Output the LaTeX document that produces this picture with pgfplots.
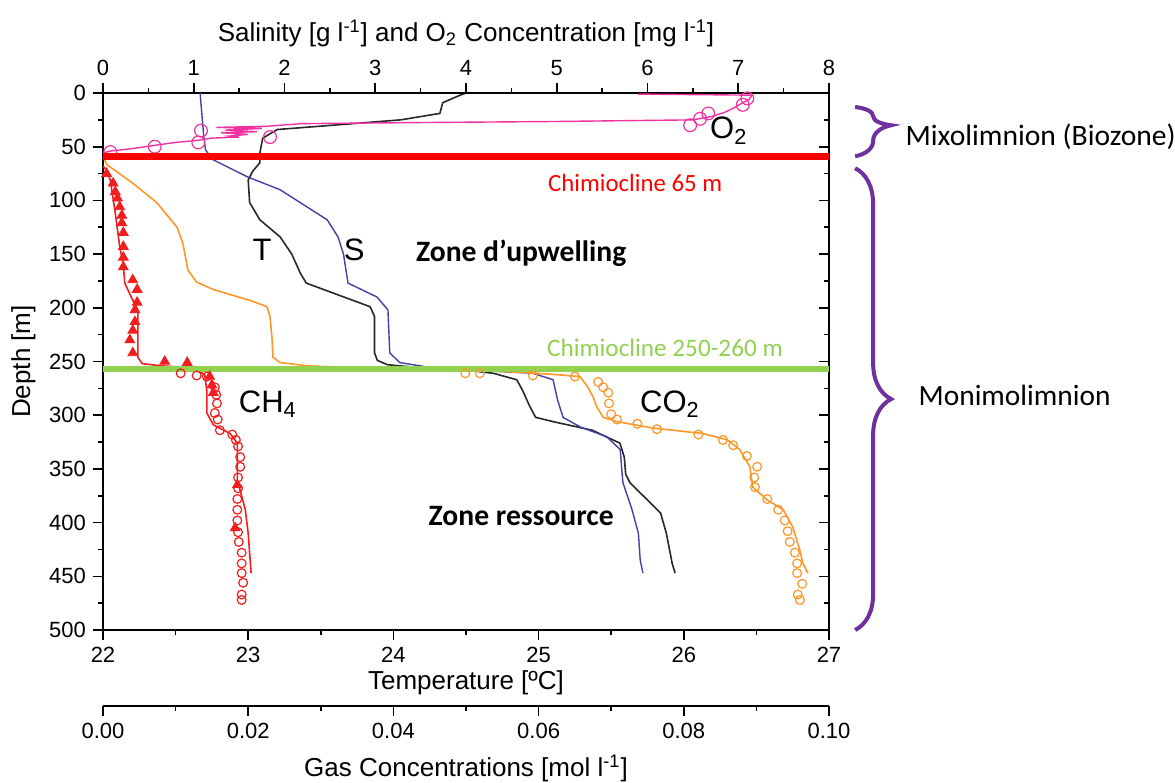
\documentclass[border=0pt]{standalone}
\usepackage{fontspec}
\setmainfont{Liberation Sans}
\newfontfamily\calibri{Carlito}
\usepackage{pgfplots}
\pgfplotsset{compat=1.18}
\usetikzlibrary{decorations.pathreplacing}
\definecolor{salblue}{RGB}{64,64,165}
\definecolor{tgray}{RGB}{40,40,40}
\definecolor{otwo}{RGB}{240,50,160}
\definecolor{chred}{RGB}{240,30,30}
\definecolor{coorange}{RGB}{255,150,40}
\definecolor{chgreen}{RGB}{146,208,80}
\definecolor{bracepurple}{RGB}{112,48,160}
\pgfplotsset{
  common/.style={scale only axis, width=363pt, height=268.5pt,
    ymin=0, ymax=500, y dir=reverse, at={(0,0)}, anchor=south west,
    /pgf/number format/assume math mode=true,
    tick label style={font=\fontsize{11}{13}\selectfont},
    label style={font=\fontsize{13}{15}\selectfont},
    tick align=outside, major tick length=5pt, minor tick length=2.5pt,
    tick style={black, line width=0.8pt},
    axis line style={-, line width=1pt},
    every outer x axis line/.append style={-},
    every outer y axis line/.append style={-},
    scaled ticks=false},
}
\begin{document}
\begin{tikzpicture}
% Temperature axis (main)
\begin{axis}[common, xmin=22, xmax=27,
  axis x line*=bottom, axis y line*=left,
  xtick={22,23,24,25,26,27}, minor x tick num=1,
  ytick={0,50,...,500}, minor y tick num=1,
  xlabel={Temperature [ºC]}, ylabel={Depth [m]},
  xlabel style={yshift=3pt},
  tick align=outside]
\addplot[tgray, line width=0.8pt] coordinates {
(24.50,0) (24.46,2) (24.34,9) (24.32,19) (24.05,25) (23.58,30) (23.20,34) (23.10,42) (23.08,56) (23.08,65) (23.03,73) (23.00,81) (23.01,102) (23.08,118) (23.22,134) (23.30,150) (23.36,168) (23.40,177) (23.58,186) (23.84,199) (23.87,208) (23.87,242) (23.89,249) (23.96,253) (24.2,256) (24.5,258) (24.69,261) (24.85,267) (24.89,277) (24.94,292) (24.98,302) (25.10,306) (25.37,314) (25.56,326) (25.59,339) (25.60,355) (25.63,363) (25.75,379) (25.84,391) (25.88,410) (25.92,438) (25.94,447)};
\end{axis}
% right ticks
\begin{axis}[common, xmin=0, xmax=1, hide x axis, axis y line*=right,
  tick align=inside, ytick={0,50,...,500}, minor y tick num=1, yticklabels={}]
\end{axis}
% Salinity / O2 axis
\begin{axis}[common, xmin=0, xmax=8, axis x line*=top, axis y line=none,
  xtick={0,...,8}, minor x tick num=1,
  xlabel={Salinity [g l\textsuperscript{-1}] and O\textsubscript{2} Concentration [mg l\textsuperscript{-1}]}]
\addplot[salblue, line width=0.7pt] coordinates {
(1.07,0) (1.09,20) (1.11,40) (1.13,53) (1.21,62) (1.59,78) (1.95,90) (2.47,118) (2.59,134) (2.65,150) (2.70,177) (3.02,190) (3.14,202) (3.16,242) (3.27,251) (3.64,256) (4.3,259) (4.74,261) (4.96,267) (5.01,286) (5.07,302) (5.26,311) (5.55,320) (5.70,332) (5.72,354) (5.73,363) (5.83,388) (5.90,410) (5.92,435) (5.95,447)};
\addplot[otwo, line width=0.7pt] coordinates {
(5.9,1) (7.15,2) (7.12,6) (7.05,9) (6.95,14) (6.85,18) (6.7,22) (6.5,25) (5.0,26.5) (3.5,27.5) (2.2,28.5) (1.95,30) (1.8,31) (1.25,32) (1.75,33) (1.35,34.5) (1.70,36) (1.30,37) (1.60,38.5) (1.40,40) (1.50,41) (1.20,42) (1.05,44) (0.80,46) (0.55,49) (0.30,52) (0.08,54) (0.0,56)};
\addplot[otwo, only marks, mark=o, mark size=3.2pt, mark options={line width=0.6pt}] coordinates {
(7.1,5) (7.05,11) (6.67,19) (6.58,24) (6.47,30) (1.08,35) (1.84,41) (1.05,46) (0.57,50) (0.08,55)};
\end{axis}
% Gas axis (data)
\begin{axis}[common, xmin=0, xmax=0.1, hide axis, clip=false]
\addplot[chred, line width=0.8pt] coordinates {
(0.0000,68) (0.0005,72) (0.0010,81) (0.0017,112) (0.0023,143) (0.0028,160) (0.0030,177) (0.0041,193) (0.0048,202) (0.0048,246) (0.0054,252) (0.0080,254) (0.0102,255) (0.0130,259) (0.0140,262) (0.0143,277) (0.0143,298) (0.0152,309) (0.0175,317) (0.0185,326) (0.0185,360) (0.0196,388) (0.0200,410) (0.0204,447)};
\addplot[chred, only marks, mark=triangle*, mark size=2.8pt] coordinates {
(0.0005,75) (0.0014,84) (0.0017,92) (0.0020,98) (0.0023,106) (0.0026,114) (0.0026,121) (0.0028,130) (0.0028,143) (0.0028,153) (0.0028,162) (0.0041,174) (0.0047,183) (0.0047,195) (0.0044,202) (0.0044,213) (0.0041,221) (0.0037,230) (0.0041,242) (0.0085,250) (0.0116,251) (0.0147,264) (0.0150,272) (0.0152,279) (0.0185,365) (0.0182,405)};
\addplot[chred, only marks, mark=o, mark size=2.2pt, mark options={line width=0.6pt}] coordinates {
(0.0107,261) (0.0129,263) (0.0143,264) (0.0154,274) (0.0156,281) (0.0157,289) (0.0154,298) (0.0158,304) (0.0161,314) (0.0178,318) (0.0183,323) (0.0186,329) (0.0189,339) (0.0189,348) (0.0186,358) (0.0186,368) (0.0185,378) (0.0185,388) (0.0185,398) (0.0186,409) (0.0187,418) (0.0191,428) (0.0191,438) (0.0191,447) (0.0193,456) (0.0191,467) (0.0191,472)};
\addplot[coorange, line width=0.8pt] coordinates {
(0.0000,60) (0.0006,67) (0.0041,84) (0.0074,102) (0.0102,125) (0.0110,140) (0.0117,165) (0.0129,176) (0.0152,183) (0.0202,193) (0.0226,199) (0.0230,208) (0.0233,230) (0.0234,246) (0.0244,251) (0.0281,254) (0.0317,255) (0.0409,256) (0.0499,258) (0.0574,260) (0.0620,262) (0.0657,264) (0.0668,274) (0.0675,283) (0.0680,292) (0.0689,302) (0.0708,306) (0.0758,312) (0.0826,317) (0.0860,323) (0.0877,332) (0.0891,348) (0.0895,367) (0.0915,379) (0.0937,388) (0.0950,404) (0.0960,426) (0.0964,438) (0.0971,447)};
\addplot[coorange, only marks, mark=o, mark size=2.2pt, mark options={line width=0.6pt}] coordinates {
(0.0499,261) (0.0519,261) (0.0592,263) (0.0650,264) (0.0682,269) (0.0689,274) (0.0696,279) (0.0697,289) (0.0700,299) (0.0708,304) (0.0736,308) (0.0763,313) (0.0820,318) (0.0854,323) (0.0868,328) (0.0887,338) (0.0901,348) (0.0897,358) (0.0898,367) (0.0915,378) (0.0930,388) (0.0939,398) (0.0943,408) (0.0946,418) (0.0953,428) (0.0956,438) (0.0956,447) (0.0963,457) (0.0957,467) (0.0960,472)};
% chemoclines
\addplot[red, line width=3.5pt] coordinates {(0,59) (0.1,59)};
\addplot[chgreen, line width=3pt] coordinates {(0,257) (0.1,257)};
% labels
\node[font=\fontsize{15.5}{17}\selectfont] at (axis cs:0.0862,35) {O\textsubscript{2}};
\node[font=\fontsize{15.5}{17}\selectfont] at (axis cs:0.0219,146) {T};
\node[font=\fontsize{15.5}{17}\selectfont] at (axis cs:0.0346,146) {S};
\node[font=\fontsize{15.5}{17}\selectfont] at (axis cs:0.0227,290) {CH\textsubscript{4}};
\node[font=\fontsize{15.5}{17}\selectfont] at (axis cs:0.0781,290) {CO\textsubscript{2}};
\node[font=\calibri\bfseries\fontsize{14.8}{17}\selectfont] at (axis cs:0.0576,149) {Zone d’upwelling};
\node[font=\calibri\bfseries\fontsize{14.8}{17}\selectfont] at (axis cs:0.0576,394) {Zone ressource};
\node[red, font=\calibri\fontsize{12.4}{14}\selectfont] at (axis cs:0.0733,84) {Chimiocline 65 m};
\node[chgreen, font=\calibri\fontsize{12.6}{14}\selectfont] at (axis cs:0.0774,237) {Chimiocline 250-260 m};
% braces
\draw[bracepurple, line width=2pt, decorate, decoration={brace, amplitude=18pt, aspect=0.37}] (axis cs:0.1036,13) -- (axis cs:0.1036,59);
\draw[bracepurple, line width=2pt, decorate, decoration={brace, amplitude=18pt, aspect=0.5}] (axis cs:0.1036,70) -- (axis cs:0.1036,500);
\node[anchor=west, inner sep=0pt, font=\calibri\fontsize{14.8}{17}\selectfont] at (axis cs:0.1105,41) {Mixolimnion (Biozone)};
\node[anchor=west, inner sep=0pt, font=\calibri\fontsize{14.7}{17}\selectfont] at (axis cs:0.1123,282) {Monimolimnion};
\end{axis}
% Gas scale axis
\begin{axis}[scale only axis, width=363pt, height=1pt, at={(0,-38pt)}, anchor=south west,
  xmin=0, xmax=0.1, ymin=0, ymax=1, hide y axis, axis x line*=bottom,
  /pgf/number format/assume math mode=true,
  tick label style={font=\fontsize{11}{13}\selectfont},
  label style={font=\fontsize{13}{15}\selectfont},
  xlabel style={yshift=-1.5pt},
  tick align=outside, major tick length=5pt, minor tick length=2.5pt,
  tick style={black, line width=0.8pt},
  axis line style={-, line width=1pt},
  every outer x axis line/.append style={-},
  scaled x ticks=false,
  xtick={0,0.02,0.04,0.06,0.08,0.1}, minor x tick num=1,
  xticklabel style={/pgf/number format/.cd, fixed, fixed zerofill, precision=2},
  xlabel={Gas Concentrations [mol l\textsuperscript{-1}]}]
\end{axis}
\pgfresetboundingbox
\useasboundingbox (-51.5pt,-76.5pt) rectangle (536pt,315pt);
\end{tikzpicture}
\end{document}
